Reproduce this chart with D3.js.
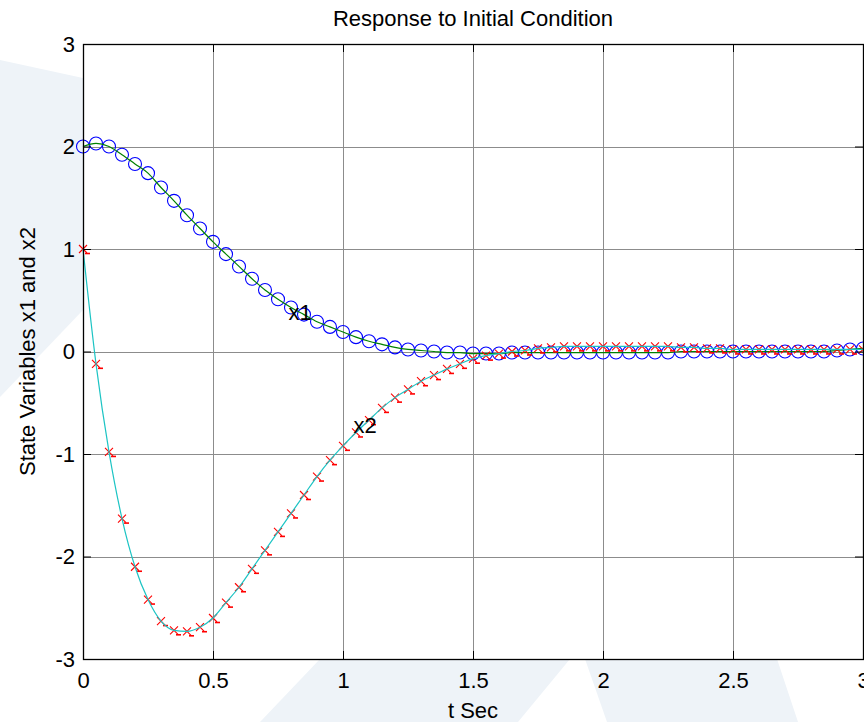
<!DOCTYPE html>
<html>
<head>
<meta charset="utf-8">
<script src="https://cdn.jsdelivr.net/npm/d3@7"></script>
<style>
  body { margin: 0; background: #fff; }
  svg text { font-family: Arial, "Liberation Sans", Helvetica, sans-serif; }
</style>
</head>
<body>
<div id="chart"></div>
<script>
// time axis (sec) and the two state variables
var tSec = [0, 0.05, 0.1, 0.15, 0.2, 0.25, 0.3, 0.35, 0.4, 0.45,
            0.5, 0.55, 0.6, 0.65, 0.7, 0.75, 0.8, 0.85, 0.9, 0.95,
            1, 1.05, 1.1, 1.15, 1.2, 1.25, 1.3, 1.35, 1.4, 1.45,
            1.5, 1.55, 1.6, 1.65, 1.7, 1.75, 1.8, 1.85, 1.9, 1.95,
            2, 2.05, 2.1, 2.15, 2.2, 2.25, 2.3, 2.35, 2.4, 2.45,
            2.5, 2.55, 2.6, 2.65, 2.7, 2.75, 2.8, 2.85, 2.9, 2.95, 3];

var x1 = [2.00, 2.03, 2.00, 1.92, 1.83, 1.74, 1.60, 1.47, 1.33, 1.20,
          1.07, 0.95, 0.83, 0.71, 0.60, 0.51, 0.43, 0.36, 0.29, 0.24,
          0.19, 0.14, 0.10, 0.07, 0.04, 0.02, 0.01, 0.00, -0.01, -0.01,
          -0.02, -0.02, -0.02, -0.01, -0.01, -0.01, -0.01, -0.01, -0.01, -0.01,
          -0.01, -0.01, -0.01, -0.01, -0.01, -0.01, 0.00, 0.00, 0.00, 0.00,
          0.00, 0.00, 0.00, 0.00, 0.00, 0.00, 0.00, 0.00, 0.01, 0.02, 0.03];

var x2 = [1.00, -0.12, -0.98, -1.63, -2.10, -2.42, -2.63, -2.72, -2.73, -2.69,
          -2.60, -2.45, -2.30, -2.12, -1.94, -1.76, -1.58, -1.40, -1.22, -1.06,
          -0.92, -0.79, -0.67, -0.55, -0.45, -0.37, -0.29, -0.23, -0.17, -0.12,
          -0.07, -0.04, -0.02, 0.00, 0.01, 0.03, 0.04, 0.05, 0.05, 0.05,
          0.05, 0.05, 0.05, 0.05, 0.05, 0.05, 0.04, 0.04, 0.03, 0.03,
          0.02, 0.02, 0.02, 0.02, 0.02, 0.02, 0.02, 0.02, 0.02, 0.02, 0.02];

var xTicks = [0, 0.5, 1, 1.5, 2, 2.5, 3];
var yTicks = [-3, -2, -1, 0, 1, 2, 3];

// in-plot annotations
var noteText = ["x1", "x2"];
var noteT = [0.79, 1.04];
var noteV = [0.38, -0.72];

function init ()
{
    var w = 864;
    var h = 722;
    var left = 83, right = 863, top = 44, bottom = 659;
    var fontSize = 22;

    var xScale = d3.scaleLinear().domain([0, 3]).range([left, right]);
    var yScale = d3.scaleLinear().domain([-3, 3]).range([bottom, top]);
    var crisp = function(v) { return Math.round(v) + 0.5; };
    var plain = function(d) { return String(d); };   // hyphen minus, like the original

    var svg = d3.select("#chart")
        .append("svg")
        .attr("width", w)
        .attr("height", h);

        //faint watermark shapes behind the figure
    var shapes = [
        "M0,60 L83,78 L83,310 L0,397 Z",
        "M320,659 L570,659 L518,722 L260,722 Z",
        "M585,659 L777,659 L798,722 L607,722 Z"
    ];
    svg.selectAll("path.wm")
        .data(shapes)
        .enter().append("path")
        .attr("class", "wm")
        .attr("d", function(d) { return d; })
        .attr("fill", "#eef3f8");

        //white axes area
    svg.append("rect")
        .attr("x", left).attr("y", top)
        .attr("width", right - left).attr("height", bottom - top)
        .attr("fill", "#fff");

        //grid
    svg.append("g").selectAll("line")
        .data(xTicks.slice(1, -1))
        .enter().append("line")
        .attr("x1", function(d) { return crisp(xScale(d)); })
        .attr("x2", function(d) { return crisp(xScale(d)); })
        .attr("y1", top).attr("y2", bottom)
        .attr("stroke", "#8c8c8c").attr("stroke-width", 1);

    svg.append("g").selectAll("line")
        .data(yTicks.slice(1, -1))
        .enter().append("line")
        .attr("y1", function(d) { return crisp(yScale(d)); })
        .attr("y2", function(d) { return crisp(yScale(d)); })
        .attr("x1", left).attr("x2", right)
        .attr("stroke", "#8c8c8c").attr("stroke-width", 1);

    var points = tSec.map(function(t, i) { return { t: t, a: x1[i], b: x2[i] }; });

        //x1 : blue circles with a green line
    svg.append("g").selectAll("circle")
        .data(points)
        .enter().append("circle")
        .attr("cx", function(d) { return xScale(d.t); })
        .attr("cy", function(d) { return yScale(d.a); })
        .attr("r", 6.5)
        .attr("fill", "none")
        .attr("stroke", "#0000ff")
        .attr("stroke-width", 1.1);

    var line1 = d3.line()
        .x(function(d) { return xScale(d.t); })
        .y(function(d) { return yScale(d.a); })
        .curve(d3.curveMonotoneX);

    svg.append("path")
        .datum(points)
        .attr("d", line1)
        .attr("fill", "none")
        .attr("stroke", "#008000")
        .attr("stroke-width", 1.2);

        //x2 : red x markers with a cyan line
    var marks = svg.append("g").selectAll("g")
        .data(points)
        .enter().append("g")
        .attr("transform", function(d) { return "translate(" + xScale(d.t) + "," + yScale(d.b) + ")"; });

    marks.append("path")
        .attr("d", "M-4,-4 L4,4 M-4,4 L4,-4")
        .attr("stroke", "#ff0000")
        .attr("stroke-width", 1.1)
        .attr("fill", "none");

    marks.append("line")
        .attr("x1", 2).attr("x2", 7)
        .attr("y1", 4.5).attr("y2", 4.5)
        .attr("stroke", "#ff0000")
        .attr("stroke-width", 1.6);

    var line2 = d3.line()
        .x(function(d) { return xScale(d.t); })
        .y(function(d) { return yScale(d.b); })
        .curve(d3.curveMonotoneX);

    svg.append("path")
        .datum(points)
        .attr("d", line2)
        .attr("fill", "none")
        .attr("stroke", "#1cc4c4")
        .attr("stroke-width", 1.2);

        //annotations
    svg.append("g").selectAll("text")
        .data(noteText)
        .enter().append("text")
        .attr("x", function(d, i) { return xScale(noteT[i]); })
        .attr("y", function(d, i) { return yScale(noteV[i]); })
        .attr("dy", "0.36em")
        .attr("font-size", fontSize)
        .attr("fill", "#000")
        .text(function(d) { return d; });

        //axes with inward ticks on all four sides
    var styleAxis = function(g) {
        g.select(".domain").remove();
        g.selectAll(".tick line").attr("stroke", "#000");
        g.selectAll("text")
            .attr("font-size", fontSize)
            .attr("font-family", "Arial, 'Liberation Sans', Helvetica, sans-serif")
            .attr("fill", "#000");
    };

    svg.append("g")
        .attr("transform", "translate(0," + bottom + ")")
        .call(d3.axisBottom(xScale).tickValues(xTicks).tickFormat(plain).tickSizeInner(-8).tickSizeOuter(0).tickPadding(13))
        .call(styleAxis);

    svg.append("g")
        .attr("transform", "translate(0," + top + ")")
        .call(d3.axisTop(xScale).tickValues(xTicks).tickFormat("").tickSizeInner(-8).tickSizeOuter(0))
        .call(styleAxis);

    svg.append("g")
        .attr("transform", "translate(" + left + ",0)")
        .call(d3.axisLeft(yScale).tickValues(yTicks).tickFormat(plain).tickSizeInner(-8).tickSizeOuter(0).tickPadding(8))
        .call(styleAxis);

    svg.append("g")
        .attr("transform", "translate(" + right + ",0)")
        .call(d3.axisRight(yScale).tickValues(yTicks).tickFormat("").tickSizeInner(-8).tickSizeOuter(0))
        .call(styleAxis);

        //axes box
    svg.append("rect")
        .attr("x", left + 0.5).attr("y", top + 0.5)
        .attr("width", right - left).attr("height", bottom - top)
        .attr("fill", "none")
        .attr("stroke", "#000")
        .attr("stroke-width", 1.3);

        //title and axis labels
    svg.append("text")
        .attr("x", (left + right) / 2)
        .attr("y", 26)
        .attr("text-anchor", "middle")
        .attr("font-size", fontSize)
        .text("Response to Initial Condition");

    svg.append("text")
        .attr("x", (left + right) / 2)
        .attr("y", 718)
        .attr("text-anchor", "middle")
        .attr("font-size", fontSize)
        .text("t Sec");

    svg.append("text")
        .attr("transform", "translate(35," + ((top + bottom) / 2) + ") rotate(-90)")
        .attr("text-anchor", "middle")
        .attr("font-size", fontSize)
        .text("State Variables x1 and x2");
}

window.onload = init;
</script>
</body>
</html>
